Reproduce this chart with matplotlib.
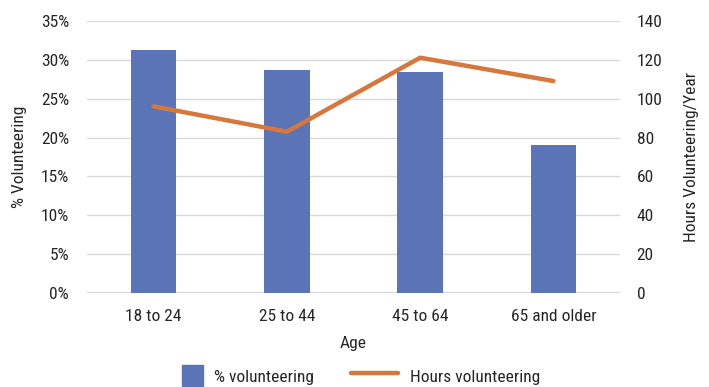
import matplotlib
matplotlib.use("Agg")
import matplotlib.pyplot as plt
from matplotlib.ticker import FuncFormatter
from matplotlib.patches import Rectangle
from matplotlib.legend_handler import HandlerPatch

plt.rcParams["font.family"] = ["Roboto Condensed", "DejaVu Sans"]
plt.rcParams["font.size"] = 12

ages = ["18 to 24", "25 to 44", "45 to 64", "65 and older"]
pct_volunteering = [31.2, 28.7, 28.4, 19.1]
hours_volunteering = [96, 83, 121, 109]

bar_color = "#5b73b7"
line_color = "#d6773c"
grid_color = "#d9d9d9"
text_color = "#262626"

fig = plt.figure(figsize=(7.09, 3.87), dpi=100)
ax = fig.add_axes([0.1227, 0.2421, 0.7518, 0.7044])
ax2 = ax.twinx()

x = range(len(ages))
ax.bar(x, pct_volunteering, width=0.34, color=bar_color, zorder=2)
line, = ax2.plot(x, hours_volunteering, color=line_color, lw=3.2,
                 solid_capstyle="round", zorder=3, label="Hours volunteering")

ax.set_ylim(0, 35)
ax.set_yticks(range(0, 36, 5))
ax.yaxis.set_major_formatter(FuncFormatter(lambda v, p: "%d%%" % v))
ax2.set_ylim(0, 140)
ax2.set_yticks(range(0, 141, 20))
ax.set_xlim(-0.5, 3.5)
ax.set_xticks(list(x))
ax.set_xticklabels(ages)

ax.grid(axis="y", color=grid_color, lw=1, zorder=0)
ax.set_axisbelow(True)
for a in (ax, ax2):
    for s in a.spines.values():
        s.set_visible(False)
    a.tick_params(length=0, colors=text_color, labelsize=12.5)
ax.axhline(0, color=grid_color, lw=2.4, zorder=1)
ax.tick_params(axis="x", pad=11)
ax.tick_params(axis="y", pad=13)
ax2.tick_params(axis="y", pad=12)

ax.set_xlabel("Age", color=text_color, fontsize=12.5)
ax.xaxis.set_label_coords(0.5, -0.157)
ax.set_ylabel("% Volunteering", color=text_color, fontsize=12.5)
ax.yaxis.set_label_coords(-0.112, 0.5)
ax2.set_ylabel("Hours Volunteering/Year", color=text_color, fontsize=12.5)
ax2.yaxis.set_label_coords(1.12, 0.5)


def square_patch(legend, orig_handle, xdescent, ydescent, width, height, fontsize):
    # square swatch pushed to the right end of the handle box
    return Rectangle((width - height - xdescent, -ydescent), height, height)


swatch = Rectangle((0, 0), 1, 1, color=bar_color, label="% volunteering")
fig.legend(handles=[swatch, line], loc="center", bbox_to_anchor=(0.49, 0.029),
           ncol=2, frameon=False, fontsize=12.5, handlelength=2.75, handleheight=1.5,
           handletextpad=0.65, columnspacing=2.1, labelcolor=text_color,
           handler_map={swatch: HandlerPatch(patch_func=square_patch)})

fig.savefig("out.png", dpi=100)
